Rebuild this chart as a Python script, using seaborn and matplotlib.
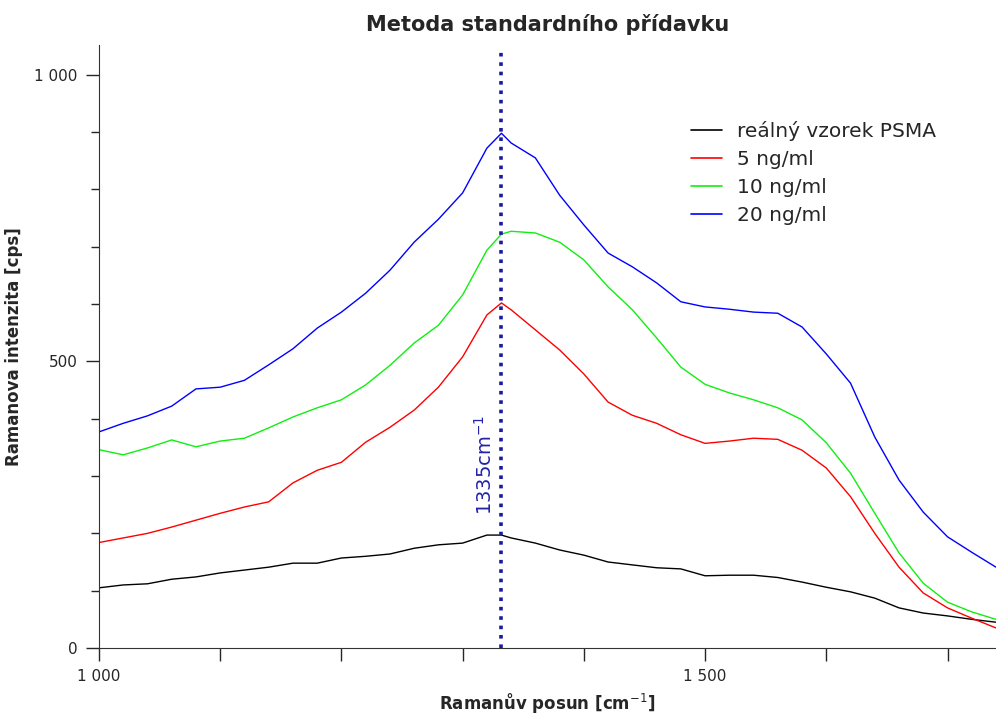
import matplotlib
matplotlib.use('Agg')
import matplotlib.pyplot as plt
from matplotlib.ticker import MultipleLocator, FixedLocator, FuncFormatter
import pandas as pd
import seaborn as sns

# Raman shift grid [cm-1]
shift = [1000, 1020, 1040, 1060, 1080, 1100, 1120, 1140, 1160, 1180, 1200, 1220,
         1240, 1260, 1280, 1300, 1320, 1332, 1340, 1360, 1380, 1400, 1420, 1440,
         1460, 1480, 1500, 1520, 1540, 1560, 1580, 1600, 1620, 1640, 1660, 1680,
         1700, 1720, 1740]

# intensities [cps]
real_sample = [105, 110, 112, 120, 124, 131, 136, 141, 148, 148, 157, 160,
               164, 174, 180, 183, 197, 197, 192, 183, 171, 162, 150, 145,
               140, 138, 126, 127, 127, 123, 115, 106, 98, 87, 70, 61,
               56, 50, 45]
c5 = [184, 192, 200, 211, 223, 235, 246, 255, 288, 310, 324, 359,
      385, 415, 455, 508, 581, 602, 590, 555, 520, 478, 429, 406,
      392, 372, 357, 361, 366, 364, 345, 314, 264, 200, 141, 96,
      70, 52, 35]
c10 = [346, 337, 349, 363, 351, 361, 366, 384, 403, 419, 433, 459,
       493, 532, 563, 616, 694, 722, 727, 724, 708, 677, 630, 590,
       541, 490, 460, 445, 433, 419, 398, 358, 305, 235, 166, 113,
       80, 63, 50]
c20 = [377, 392, 405, 422, 452, 455, 467, 494, 522, 558, 586, 619,
       659, 708, 748, 794, 872, 898, 881, 855, 790, 738, 689, 665,
       637, 604, 595, 591, 586, 584, 560, 513, 462, 368, 293, 237,
       194, 167, 141]

series_names = ['reálný vzorek PSMA', '5 ng/ml', '10 ng/ml', '20 ng/ml']
colors = ['black', '#ff0000', '#11ee11', '#0000ff']
peak_pos = 1332
peak_label = '1335cm$^{-1}$'

# long format for seaborn
frames = []
for name, vals in zip(series_names, [real_sample, c5, c10, c20]):
    frames.append(pd.DataFrame({'shift': shift, 'intensity': vals, 'sample': name}))
df = pd.concat(frames, ignore_index=True)

sns.set_style('ticks')
plt.rcParams['font.family'] = ['DejaVu Sans']

fig = plt.figure(figsize=(9.96, 7.15), dpi=100)
ax = fig.add_axes([0.0994, 0.0937, 0.9006, 0.8434])

sns.lineplot(data=df, x='shift', y='intensity', hue='sample',
             palette=dict(zip(series_names, colors)), linewidth=1.0, ax=ax)

# marked peak position
ax.axvline(peak_pos, color='#1a1aa0', linestyle=(0, (1, 1.6)), linewidth=2.6, ymax=0.995)
ax.text(1318, 232, peak_label, rotation=90, color='#2222aa', fontsize=14,
        ha='center', va='bottom')

ax.set_xlim(1000, 1740)
ax.set_ylim(0, 1052)
ax.xaxis.set_major_locator(FixedLocator([1000, 1500]))
ax.xaxis.set_minor_locator(MultipleLocator(100))
ax.yaxis.set_major_locator(FixedLocator([0, 500, 1000]))
ax.yaxis.set_minor_locator(MultipleLocator(100))
fmt = FuncFormatter(lambda v, p: '{:,}'.format(int(v)).replace(',', ' '))
ax.xaxis.set_major_formatter(fmt)
ax.yaxis.set_major_formatter(fmt)
ax.tick_params(axis='x', which='both', length=9, width=1, pad=6, labelsize=11)
ax.tick_params(axis='y', which='major', length=9.5, width=1, pad=6, labelsize=11)
ax.tick_params(axis='y', which='minor', length=6, width=1)
sns.despine(ax=ax)
for s in ['left', 'bottom']:
    ax.spines[s].set_color('#333333')

ax.set_xlabel('Ramanův posun [cm$^{-1}$]', fontsize=12, fontweight='bold', labelpad=6)
ax.set_ylabel('Ramanova intenzita [cps]', fontsize=12, fontweight='bold', labelpad=8)
ax.set_title('Metoda standardního přídavku', fontsize=15, fontweight='bold', pad=10)

leg = ax.legend(loc='upper left', bbox_to_anchor=(0.64, 0.904), frameon=False,
                fontsize=14.5, handlelength=1.55, labelspacing=0.45, handletextpad=0.72)
for line in leg.get_lines():
    line.set_linewidth(1.2)

fig.savefig('out.png', dpi=100)
